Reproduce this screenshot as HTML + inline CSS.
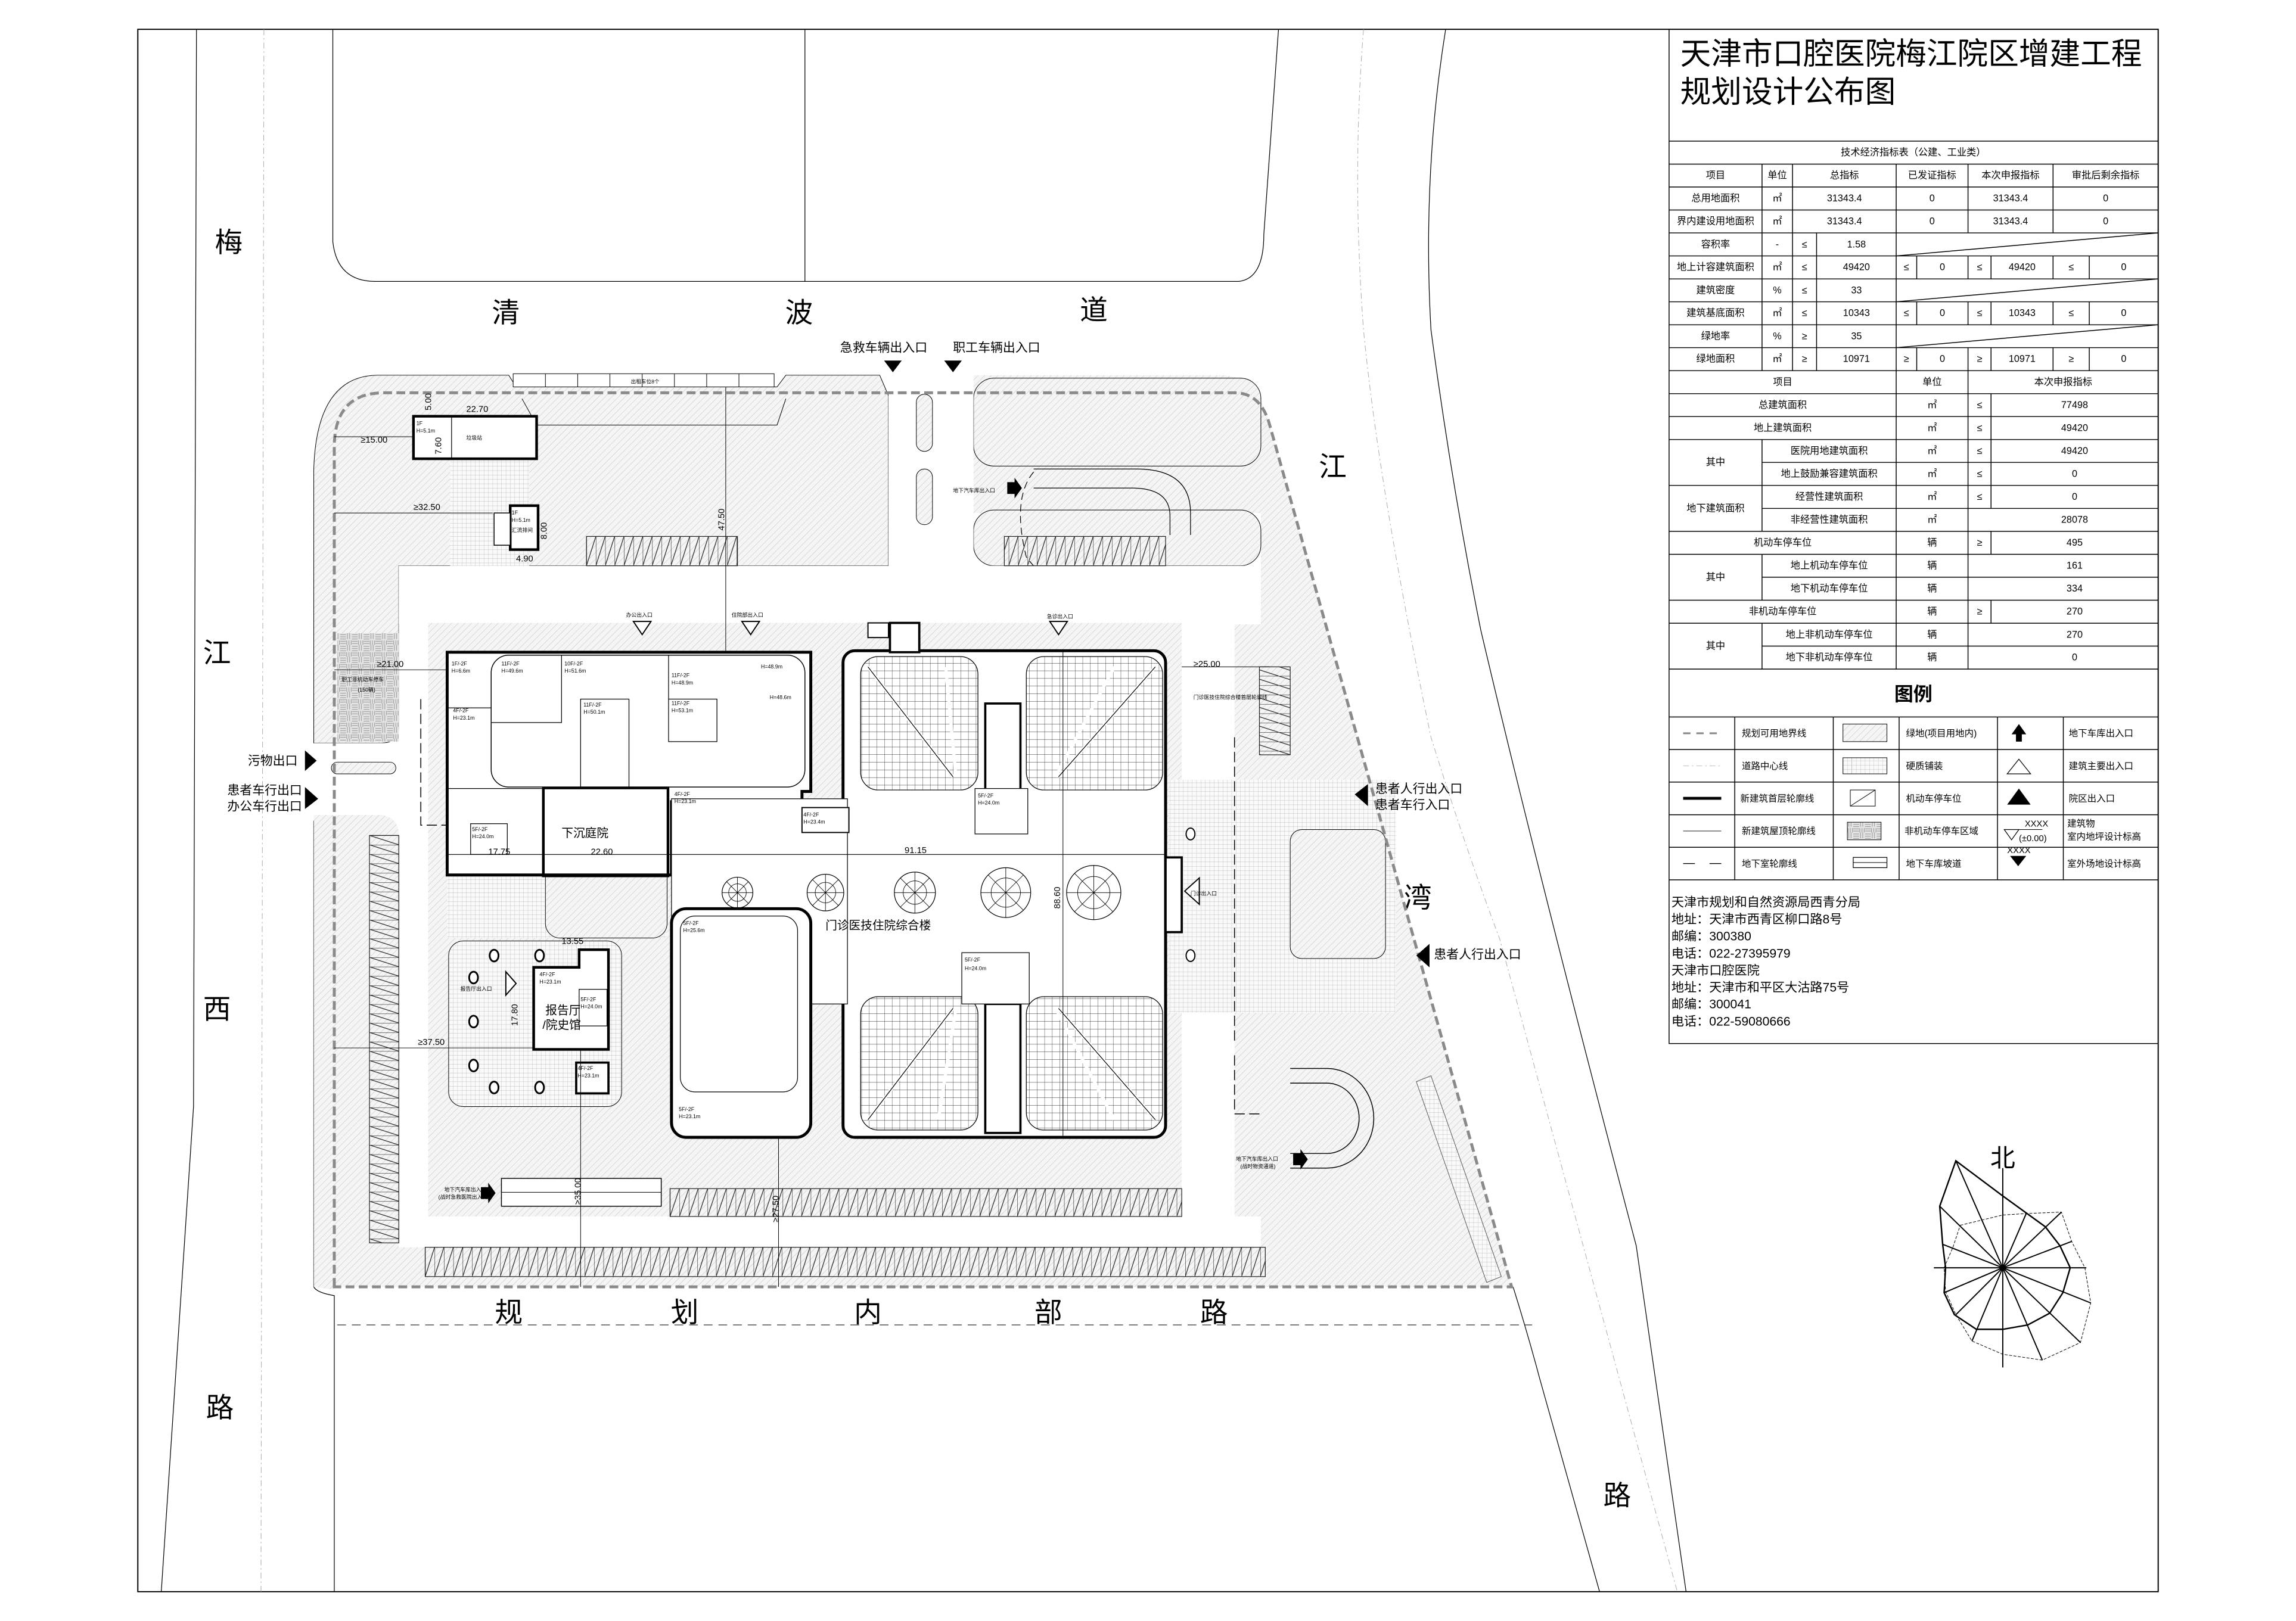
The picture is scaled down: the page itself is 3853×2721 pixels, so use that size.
<!DOCTYPE html>
<html><head><meta charset="utf-8">
<style>
html,body{margin:0;padding:0;background:#fff;}
svg{display:block;}
text{font-family:"Liberation Sans","Noto Sans CJK SC",sans-serif;fill:#000;}
</style></head>
<body>
<svg width="3853" height="2721" viewBox="0 0 1566 1106" preserveAspectRatio="none" xmlns="http://www.w3.org/2000/svg">
<defs>
<pattern id="h" width="3.2" height="3.2" patternUnits="userSpaceOnUse" patternTransform="rotate(45)"><rect width="3.2" height="3.2" fill="#f5f5f5"/><line x1="0" y1="0" x2="0" y2="3.2" stroke="#c2c2c2" stroke-width="0.45"/></pattern>
<pattern id="g" width="3" height="3" patternUnits="userSpaceOnUse"><rect width="3" height="3" fill="#fafafa"/><path d="M0,0H3M0,0V3" stroke="#bdbdbd" stroke-width="0.35" fill="none"/></pattern>
<pattern id="nm" width="8" height="8" patternUnits="userSpaceOnUse"><rect width="8" height="8" fill="#e4e4e4"/><path d="M0,1H4M0,2.5H4M0,4H4M5,0V4M6.5,0V4M4.5,5V8M6,5V8M7.5,5V8M0,5.5H4M0,7H4" stroke="#888" stroke-width="0.35"/></pattern>
<pattern id="pk" width="5.2" height="5.2" patternUnits="userSpaceOnUse"><rect width="5.2" height="5.2" fill="#fff"/><path d="M0,0H5.2M0,0V5.2" stroke="#222" stroke-width="0.35"/></pattern>
<pattern id="pb" x="290" y="851" width="6.4" height="20" patternUnits="userSpaceOnUse"><path d="M0,0V20M0,20L6.4,0" stroke="#222" stroke-width="0.5" fill="none"/></pattern>
<pattern id="pa" x="457" y="811" width="6.4" height="19" patternUnits="userSpaceOnUse"><path d="M0,0V19M0,19L6.4,0" stroke="#222" stroke-width="0.5" fill="none"/></pattern>
<pattern id="pt" x="400" y="366" width="6.4" height="20" patternUnits="userSpaceOnUse"><path d="M0,0V20M0,20L6.4,0" stroke="#222" stroke-width="0.5" fill="none"/></pattern>
<pattern id="pv" x="252" y="570" width="20" height="6.4" patternUnits="userSpaceOnUse"><path d="M0,0H20M0,0L20,6.4" stroke="#222" stroke-width="0.5" fill="none"/></pattern>
</defs>

<!-- outer frame -->
<rect x="94" y="20" width="1378" height="1066" fill="none" stroke="#000" stroke-width="0.8"/>

<!-- ===== Roads ===== -->
<g fill="none" stroke="#000" stroke-width="0.5">
<path d="M134,20 L132,755 L110,1086"/>
<path d="M227,20 L227,165 Q230,192 256,192 L845,192 Q862,190 862,160 L872,20"/>
<line x1="549" y1="20" x2="549" y2="192"/>
<path d="M986,20 Q970,120 976,225 Q990,330 1010,430 Q1050,600 1116,850 L1150,1086"/>
<path d="M1032,878 Q1042,910 1050,940 L1091,1086"/>
<path d="M214,560 L214,878 Q216,882 228,884 L228,1086"/>
</g>
<g fill="none" stroke="#aaa" stroke-width="0.4" stroke-dasharray="4 2 1 2">
<line x1="180" y1="20" x2="178" y2="1086"/>
<path d="M930,20 Q922,120 930,225 Q940,330 976,503 Q1000,580 1023,641 L1144,1086"/>
</g>
<line x1="230" y1="904" x2="1045" y2="904" stroke="#333" stroke-width="0.5" stroke-dasharray="6 4"/>

<!-- road names -->
<g font-size="19" text-anchor="middle">
<text x="156" y="172">梅</text><text x="148" y="452">江</text><text x="148" y="695">西</text><text x="150" y="967">路</text>
<text x="345" y="220">清</text><text x="545" y="220">波</text><text x="746" y="218">道</text>
<text x="909" y="325">江</text><text x="967" y="619">湾</text><text x="1103" y="1027">路</text>
<text x="347" y="902">规</text><text x="467" y="902">划</text><text x="592" y="902">内</text><text x="715" y="902">部</text><text x="828" y="902">路</text>
</g>

<!-- ===== Site green (hatch) ===== -->
<path d="M214,320 Q216,256 258,256 L347,256 L352,264 L530,264 L536,256 L600,256 L606,270 L606,386 L272,386 L272,495 Q272,507 260,507 L214,507 Z" fill="url(#h)" stroke="#000" stroke-width="0.4"/>
<path d="M664,256 L835,256 Q858,258 866,290 L1031,878 L228,878 L228,880 L214,878 L214,556 L260,556 Q272,558 272,570 L272,851 L860,851 L860,830 L842,830 L842,425 L662,425 L662,386 L860,386 L860,350 L664,350 Z" fill="url(#h)" stroke="none"/>
<rect x="664" y="258" width="196" height="60" rx="14" fill="url(#h)" stroke="#000" stroke-width="0.4"/>
<rect x="664" y="348" width="196" height="38" rx="14" fill="url(#h)" stroke="#000" stroke-width="0.4"/>
<!-- ramp top-right -->
<path d="M705,320 L775,320 Q812,320 812,350 L812,365 M705,333 L772,333 Q798,333 798,352 L798,365" fill="none" stroke="#000" stroke-width="0.5"/>
<path d="M705,322 Q690,340 700,380 Q730,420 800,420" fill="none" stroke="#000" stroke-width="0.5" stroke-dasharray="5 3"/>
<!-- white internal roads -->
<rect x="272" y="386" width="588" height="40" fill="#fff"/>
<rect x="272" y="386" width="20" height="465" fill="#fff"/>
<rect x="272" y="830" width="570" height="21" fill="#fff"/>
<rect x="806" y="425" width="36" height="405" fill="#fff"/>
<rect x="606" y="256" width="58" height="130" fill="#fff"/>
<rect x="214" y="507" width="58" height="49" fill="#fff"/>
<rect x="625" y="269" width="11" height="39" rx="5.5" fill="url(#h)" stroke="#000" stroke-width="0.4"/>
<rect x="625" y="320" width="11" height="38" rx="5.5" fill="url(#h)" stroke="#000" stroke-width="0.4"/>
<rect x="226" y="520" width="44" height="8" rx="4" fill="url(#h)" stroke="#000" stroke-width="0.4"/>
<!-- building zone ring -->
<rect x="292" y="425" width="514" height="405" fill="url(#h)"/>
<!-- plaza -->
<rect x="797" y="532" width="155" height="159" fill="url(#g)"/>
<rect x="880" y="566" width="65" height="88" rx="8" fill="url(#h)" stroke="#000" stroke-width="0.4"/>
<!-- non motor parking -->
<rect x="230" y="432" width="42" height="74" fill="url(#nm)"/>
<polygon points="966,738 976,734 1024,871 1014,875" fill="url(#g)" stroke="#555" stroke-width="0.4"/>
<!-- paving patches -->
<rect x="307" y="313" width="54" height="73" fill="url(#g)"/>
<rect x="305" y="597" width="150" height="43" fill="url(#g)"/>
<rect x="306" y="642" width="118" height="113" rx="10" fill="url(#g)" stroke="#000" stroke-width="0.4"/>
<rect x="372" y="540" width="83" height="100" rx="10" fill="url(#h)" stroke="#000" stroke-width="0.4"/>

<!-- parking rows -->
<rect x="290" y="851" width="573" height="20" fill="url(#pb)" stroke="#222" stroke-width="0.5"/>
<rect x="457" y="811" width="349" height="19" fill="url(#pa)" stroke="#222" stroke-width="0.5"/>
<rect x="400" y="366" width="103" height="20" fill="url(#pt)" stroke="#222" stroke-width="0.5"/>
<rect x="685" y="366" width="110" height="20" fill="url(#pt)" stroke="#222" stroke-width="0.5"/>
<rect x="252" y="570" width="20" height="278" fill="url(#pv)" stroke="#222" stroke-width="0.5"/>
<rect x="859" y="455" width="21" height="60" fill="url(#pv)" stroke="#222" stroke-width="0.5"/>
<!-- taxi stalls -->
<rect x="350" y="255" width="178" height="9" fill="#fff" stroke="#000" stroke-width="0.4"/>
<path d="M372,255V264M394,255V264M416,255V264M438,255V264M460,255V264M482,255V264M504,255V264" stroke="#000" stroke-width="0.4"/>
<text x="440" y="261.5" font-size="3.5" text-anchor="middle">出租车位8个</text>
<path d="M356,272 L366,290 L530,290 L536,272" fill="none" stroke="#000" stroke-width="0.4"/>

<!-- site boundary dashed -->
<path d="M228,878 L228,305 Q228,268 262,268 L842,268 Q860,268 866,290 L1031,878 Z" fill="none" stroke="#8a8a8a" stroke-width="2" stroke-dasharray="6 3"/>

<!-- ===== Buildings ===== -->
<g stroke="#000" fill="#fff">
<!-- left tower -->
<path d="M305,445 L553,445 L553,540 L547,540 L547,547 L458,547 L458,597 L370,597 L370,597 L305,597 Z" stroke-width="2"/>
<rect x="335" y="447" width="214" height="90" rx="12" stroke-width="0.6"/>
<path d="M335,493 H383 V447 M396,537 V477 H429 V537 M456,477 H489 V506 H456 Z M456,447 V477" fill="none" stroke-width="0.5"/>
<path d="M305,538 H372 M305,483 H335" fill="none" stroke-width="0.5"/>
<rect x="370.6" y="537.6" width="85" height="60" fill="none" stroke-width="1.8"/>
<rect x="321" y="562" width="25" height="21" fill="#fff" stroke-width="0.5"/>
<!-- right wing -->
<rect x="575" y="444" width="220" height="332" rx="8" stroke-width="2"/>
<rect x="458" y="545" width="120" height="140" stroke-width="0.5"/>
<!-- courts -->
<rect x="587" y="448" width="80" height="91" rx="12" fill="url(#pk)" stroke-width="0.5"/>
<rect x="700" y="448" width="93" height="91" rx="12" fill="url(#pk)" stroke-width="0.5"/>
<rect x="587" y="680" width="80" height="91" rx="12" fill="url(#pk)" stroke-width="0.5"/>
<rect x="700" y="680" width="93" height="91" rx="12" fill="url(#pk)" stroke-width="0.5"/>
<path d="M592,455 L650,530 M645,455 L652,530 M788,455 L722,530 M760,455 L720,530 M592,764 L650,688 M640,764 L652,688 M788,764 L722,688 M760,764 L720,688" fill="none" stroke="#fff" stroke-width="2.2"/>
<path d="M592,455 L650,530 M788,455 L722,530 M592,764 L650,688 M788,764 L722,688" fill="none" stroke-width="0.5"/>
<rect x="672" y="480" width="24" height="62" fill="#fff" stroke-width="1.5"/>
<rect x="672" y="685" width="24" height="88" fill="#fff" stroke-width="1.5"/>
<rect x="592" y="425" width="14" height="10" stroke-width="0.8"/>
<rect x="607" y="425" width="20" height="20" stroke-width="1.5"/>
<rect x="665" y="538" width="36" height="31" stroke-width="0.5"/>
<rect x="547" y="551" width="32" height="17" stroke-width="0.8"/>
<rect x="656" y="650" width="46" height="35" stroke-width="0.5"/>
<!-- hall circles -->
</g>
<line x1="305" y1="583" x2="795" y2="583" stroke="#000" stroke-width="0.5"/>
<line x1="725" y1="443" x2="725" y2="775" stroke="#000" stroke-width="0.4"/>
<line x1="495" y1="264" x2="495" y2="445" stroke="#000" stroke-width="0.4"/>
<g fill="#fff" stroke="#000" stroke-width="0.5">
<circle cx="503" cy="609" r="10.5"/><circle cx="563" cy="609" r="12.5"/><circle cx="624" cy="609" r="14"/><circle cx="686" cy="609" r="17"/><circle cx="746" cy="609" r="18.5"/>
</g>
<g stroke="#000" stroke-width="0.35" fill="none">
<path d="M492.5,609H513.5M503,598.5V619.5M495.6,601.6L510.4,616.4M510.4,601.6L495.6,616.4"/>
<path d="M550.5,609H575.5M563,596.5V621.5M554,600L572,618M572,600L554,618"/>
<path d="M610,609H638M624,595V623M614,599L634,619M634,599L614,619"/>
<path d="M669,609H703M686,592V626M674,597L698,621M698,597L674,621"/>
<path d="M727.5,609H764.5M746,590.5V627.5M733,596L759,622M759,596L733,622"/>
<circle cx="503" cy="609" r="6"/><circle cx="563" cy="609" r="7"/><circle cx="624" cy="609" r="8"/><circle cx="686" cy="609" r="10"/><circle cx="746" cy="609" r="11"/>
</g>
<!-- lower left buildings -->
<rect x="458" y="620" width="95" height="156" rx="10" fill="#fff" stroke="#000" stroke-width="2"/>
<rect x="464" y="625" width="80" height="120" rx="10" fill="#fff" stroke="#000" stroke-width="0.5"/>
<polygon points="364,660 395,660 395,648 415,648 415,716 364,716" fill="#fff" stroke="#000" stroke-width="1.8"/>
<rect x="393" y="725" width="22" height="21" fill="#fff" stroke="#000" stroke-width="1.5"/>
<rect x="395" y="675" width="19" height="25" fill="#fff" stroke="#000" stroke-width="0.5"/>
<g fill="#fff" stroke="#000" stroke-width="1.2">
<ellipse cx="337" cy="652" rx="3" ry="4"/><ellipse cx="368" cy="652" rx="3" ry="4"/><ellipse cx="323" cy="667" rx="3" ry="4"/><ellipse cx="323" cy="697" rx="3" ry="4"/><ellipse cx="323" cy="727" rx="3" ry="4"/><ellipse cx="337" cy="742" rx="3" ry="4"/><ellipse cx="368" cy="742" rx="3" ry="4"/>
</g>
<!-- garbage station etc -->
<rect x="282" y="284" width="84" height="29" fill="#fff" stroke="#000" stroke-width="1.8"/>
<line x1="308" y1="284" x2="308" y2="313" stroke="#000" stroke-width="0.5"/>
<rect x="348" y="345" width="19" height="30" fill="#fff" stroke="#000" stroke-width="1.8"/>
<rect x="337" y="350" width="11" height="22" fill="#fff" stroke="#000" stroke-width="0.6"/>
<!-- ramps -->
<rect x="342" y="804" width="109" height="19" fill="#fff" stroke="#000" stroke-width="0.6"/>
<line x1="342" y1="813.5" x2="451" y2="813.5" stroke="#000" stroke-width="0.4"/>
<path d="M880,729 L905,729 A32 34 0 0 1 905,797 L880,797 M880,739 L905,739 A22 24 0 0 1 905,787 L880,787" fill="none" stroke="#000" stroke-width="0.6"/>
<!-- right entrance -->
<rect x="795" y="585" width="11" height="51" fill="#fff" stroke="#000" stroke-width="1.5"/>
<polygon points="808,608 818,599 818,617" fill="#fff" stroke="#000" stroke-width="0.8"/>
<ellipse cx="812" cy="569" rx="3" ry="4" fill="#fff" stroke="#000" stroke-width="0.8"/>
<ellipse cx="812" cy="652" rx="3" ry="4" fill="#fff" stroke="#000" stroke-width="0.8"/>
<!-- basement dashed -->
<path d="M287,477 V563 H305 M842,503 V711 M842,720 V760 L860,760" fill="none" stroke="#000" stroke-width="0.6" stroke-dasharray="7 3"/>
<!-- dimension lines -->
<g stroke="#000" stroke-width="0.4">
<line x1="228" y1="298" x2="282" y2="298"/><line x1="228" y1="350" x2="336" y2="350"/><line x1="228" y1="457" x2="305" y2="457"/><line x1="228" y1="715" x2="364" y2="715"/>
<line x1="396" y1="716" x2="396" y2="878"/><line x1="531" y1="776" x2="531" y2="878"/>
<line x1="806" y1="455" x2="866" y2="455"/>
</g>
<!-- building entrance triangles -->
<g fill="#fff" stroke="#000" stroke-width="0.8">
<polygon points="432,424 444,424 438,433"/><polygon points="506,424 518,424 512,433"/><polygon points="716,424 728,424 722,433"/>
<polygon points="345,663 345,679 352,671"/>
</g>

<!-- small labels -->
<g font-size="3.6">
<text x="284" y="290">1F</text><text x="284" y="295">H=5.1m</text><text x="318" y="300">垃圾站</text>
<text x="349" y="351">1F</text><text x="349" y="356">H=5.1m</text><text x="349" y="363">汇流排间</text>
<text x="308" y="454">1F/-2F</text><text x="308" y="459">H=6.6m</text>
<text x="342" y="454">11F/-2F</text><text x="342" y="459">H=49.6m</text>
<text x="385" y="454">10F/-2F</text><text x="385" y="459">H=51.6m</text>
<text x="458" y="462">11F/-2F</text><text x="458" y="467">H=48.9m</text>
<text x="458" y="481">11F/-2F</text><text x="458" y="486">H=53.1m</text>
<text x="398" y="482">11F/-2F</text><text x="398" y="487">H=50.1m</text>
<text x="309" y="486">4F/-2F</text><text x="309" y="491">H=23.1m</text>
<text x="519" y="456">H=48.9m</text><text x="525" y="477">H=48.6m</text>
<text x="460" y="543">4F/-2F</text><text x="460" y="548">H=23.1m</text>
<text x="322" y="567">5F/-2F</text><text x="322" y="572">H=24.0m</text>
<text x="548" y="557">4F/-2F</text><text x="548" y="562">H=23.4m</text>
<text x="667" y="544">5F/-2F</text><text x="667" y="549">H=24.0m</text>
<text x="658" y="656">5F/-2F</text><text x="658" y="662">H=24.0m</text>
<text x="466" y="631">5F/-2F</text><text x="466" y="636">H=25.6m</text>
<text x="463" y="758">5F/-2F</text><text x="463" y="763">H=23.1m</text>
<text x="368" y="666">4F/-2F</text><text x="368" y="671">H=23.1m</text>
<text x="396" y="683">5F/-2F</text><text x="396" y="688">H=24.0m</text>
<text x="394" y="730">4F/-2F</text><text x="394" y="735">H=23.1m</text>
<text x="427" y="421">办公出入口</text><text x="499" y="421">住院部出入口</text><text x="714" y="422">急诊出入口</text>
<text x="650" y="336">地下汽车库出入口</text>
<text x="812" y="611">门诊出入口</text>
<text x="303" y="813">地下汽车库出入口</text><text x="299" y="818">(战时急救医院出入口)</text>
<text x="843" y="792">地下汽车库出入口</text><text x="846" y="797">(战时物资通道)</text>
<text x="314" y="676">报告厅出入口</text>
<text x="233" y="465">职工非机动车停车</text><text x="244" y="472">(150辆)</text>
<text x="814" y="477">门诊医技住院综合楼首层轮廓线</text>
</g>
<g font-size="6" fill="#000">
<text x="318" y="281">22.70</text><text x="246" y="302">≥15.00</text><text x="282" y="348">≥32.50</text><text x="352" y="383">4.90</text>
<text x="257" y="455">≥21.00</text><text x="285" y="713">≥37.50</text><text x="814" y="455">≥25.00</text>
<text x="333" y="583">17.75</text><text x="403" y="583">22.60</text><text x="617" y="582">91.15</text><text x="383" y="644">13.55</text>
<text transform="translate(494,362) rotate(-90)">47.50</text><text transform="translate(723,620) rotate(-90)">88.60</text>
<text transform="translate(353,700) rotate(-90)">17.80</text><text transform="translate(396,822) rotate(-90)">≥35.00</text><text transform="translate(531,834) rotate(-90)">≥27.50</text>
<text transform="translate(301,310) rotate(-90)">7.60</text><text transform="translate(373,368) rotate(-90)">8.00</text><text transform="translate(294,280) rotate(-90)">5.00</text>
</g>
<g font-size="8">
<text x="383" y="571">下沉庭院</text><text x="563" y="634">门诊医技住院综合楼</text>
<text x="372" y="692">报告厅</text><text x="370" y="702">/院史馆</text>
</g>

<!-- site entrances -->
<g font-size="8.5">
<text x="573" y="240">急救车辆出入口</text><text x="650" y="240">职工车辆出入口</text>
<text x="203" y="522" text-anchor="end">污物出口</text>
<text x="206" y="542" text-anchor="end">患者车行出口</text><text x="206" y="553" text-anchor="end">办公车行出口</text>
<text x="938" y="541">患者人行出入口</text><text x="938" y="552">患者车行入口</text>
<text x="978" y="654">患者人行出入口</text>
</g>
<g fill="#000">
<polygon points="603,246 615,246 609,254"/><polygon points="644,246 656,246 650,254"/>
<polygon points="208,512 208,526 216,519"/><polygon points="208,537 208,552 217,545"/>
<polygon points="924,542 933,535 933,550"/><polygon points="966,652 975,644 975,660"/>
<polygon points="687,329 692,329 692,326 697,333 692,340 692,337 687,337"/>
<polygon points="328,810 333,810 333,807 338,814 333,821 333,818 328,818"/>
<polygon points="882,787 887,787 887,784 892,791 887,798 887,795 882,795"/>
</g>

<!-- ===== North arrow ===== -->
<g transform="translate(1366,865)" fill="none" stroke="#000">
<text x="0" y="-69" font-size="17" text-anchor="middle" stroke="none">北</text>
<line x1="0" y1="-68" x2="0" y2="68" stroke-width="0.8"/>
<line x1="-47" y1="0" x2="57" y2="0" stroke-width="0.8"/>
<polygon points="-29,-29 0,-36 16,-37 40,-38 47,-18 56,0 60,24 53,51 27,63 0,59 -21,50 -32,32 -39,16 -40,0 -34,-14" stroke-width="0.4" stroke-dasharray="2 1"/>
<polygon points="-32,-73 -43,-42 -41,-16 -39,0 -40,17 -33,32 -18,42 0,42 17,39 32,31 41,17 46,0 39,-15 29,-28 0,-49" stroke-width="1"/>
<path d="M0,0L-32,-73M0,0L-43,-42M0,0L-41,-16M0,0L-40,17M0,0L-32,32M0,0L-21,50M0,0L27,63M0,0L53,51M0,0L60,24M0,0L47,-18M0,0L40,-38M0,0L16,-37" stroke-width="0.8"/>
<circle r="1.5" fill="#000"/>
</g>

<!-- ===== Right panel ===== -->
<g stroke="#000" stroke-width="0.6" fill="none">
<rect x="1138.4" y="20" width="333.6" height="692"/>
<!-- horizontal full lines -->
<path d="M1138.4,96.3H1472M1138.4,112H1472M1138.4,127.6H1472M1138.4,143.3H1472M1138.4,158.9H1472M1138.4,174.6H1472M1138.4,190.3H1472M1138.4,205.9H1472M1138.4,221.6H1472M1138.4,237.2H1472M1138.4,252.9H1472M1138.4,268.6H1472M1138.4,284.2H1472M1138.4,299.9H1472M1201.8,315.5H1472M1138.4,331.2H1472M1201.8,346.9H1472M1138.4,362.5H1472M1138.4,378.2H1472M1201.8,393.8H1472M1138.4,409.5H1472M1138.4,425.2H1472M1201.8,440.8H1472M1138.4,456.5H1472"/>
<!-- verticals -->
<path d="M1201.8,112V252.9M1222.6,112V252.9M1239,158.9V252.9M1293.3,112V456.5"/>
<path d="M1307.3,174.6V190.3M1307.3,205.9V221.6M1307.3,237.2V252.9"/>
<path d="M1342.3,112V158.9M1342.3,174.6V190.3M1342.3,205.9V221.6M1342.3,237.2V456.5"/>
<path d="M1358,174.6V190.3M1358,205.9V221.6M1358,237.2V252.9M1358,268.6V346.9M1358,362.5V378.2M1358,409.5V425.2"/>
<path d="M1400.3,112V158.9M1400.3,174.6V190.3M1400.3,205.9V221.6M1400.3,237.2V252.9"/>
<path d="M1425,174.6V190.3M1425,205.9V221.6M1425,237.2V252.9"/>
<path d="M1201.8,299.9V362.5M1201.8,378.2V409.5M1201.8,425.2V456.5"/>
<path d="M1293.3,174.6L1472,158.9M1293.3,205.9L1472,190.3M1293.3,237.2L1472,221.6"/>
<!-- legend -->
<path d="M1138.4,489.2H1472M1138.4,511.4H1472M1138.4,533.6H1472M1138.4,555.9H1472M1138.4,578.1H1472M1138.4,600.3H1472"/>
<path d="M1183.2,489.2V600.3M1250.4,489.2V600.3M1295.3,489.2V600.3M1362.4,489.2V600.3M1407.3,489.2V600.3"/>
</g>
<text x="1146" y="44" font-size="21">天津市口腔医院梅江院区增建工程</text>
<text x="1146" y="70" font-size="21">规划设计公布图</text>

<g font-size="6.6" text-anchor="middle" dominant-baseline="central">
<text x="1305" y="104.1">技术经济指标表（公建、工业类）</text>
<text x="1170.1" y="119.8">项目</text><text x="1212.2" y="119.8">单位</text><text x="1258" y="119.8">总指标</text><text x="1317.8" y="119.8">已发证指标</text><text x="1371.3" y="119.8">本次申报指标</text><text x="1436.2" y="119.8">审批后剩余指标</text>
<text x="1170.1" y="135.4">总用地面积</text><text x="1212.2" y="135.4">㎡</text><text x="1258" y="135.4">31343.4</text><text x="1317.8" y="135.4">0</text><text x="1371.3" y="135.4">31343.4</text><text x="1436.2" y="135.4">0</text>
<text x="1170.1" y="151.1">界内建设用地面积</text><text x="1212.2" y="151.1">㎡</text><text x="1258" y="151.1">31343.4</text><text x="1317.8" y="151.1">0</text><text x="1371.3" y="151.1">31343.4</text><text x="1436.2" y="151.1">0</text>
<text x="1170.1" y="166.8">容积率</text><text x="1212.2" y="166.8">-</text><text x="1230.8" y="166.8">≤</text><text x="1266.2" y="166.8">1.58</text>
<text x="1170.1" y="182.4">地上计容建筑面积</text><text x="1212.2" y="182.4">㎡</text><text x="1230.8" y="182.4">≤</text><text x="1266.2" y="182.4">49420</text><text x="1300.3" y="182.4">≤</text><text x="1324.8" y="182.4">0</text><text x="1350.2" y="182.4">≤</text><text x="1379.2" y="182.4">49420</text><text x="1412.7" y="182.4">≤</text><text x="1448.5" y="182.4">0</text>
<text x="1170.1" y="198.1">建筑密度</text><text x="1212.2" y="198.1">%</text><text x="1230.8" y="198.1">≤</text><text x="1266.2" y="198.1">33</text>
<text x="1170.1" y="213.7">建筑基底面积</text><text x="1212.2" y="213.7">㎡</text><text x="1230.8" y="213.7">≤</text><text x="1266.2" y="213.7">10343</text><text x="1300.3" y="213.7">≤</text><text x="1324.8" y="213.7">0</text><text x="1350.2" y="213.7">≤</text><text x="1379.2" y="213.7">10343</text><text x="1412.7" y="213.7">≤</text><text x="1448.5" y="213.7">0</text>
<text x="1170.1" y="229.4">绿地率</text><text x="1212.2" y="229.4">%</text><text x="1230.8" y="229.4">≥</text><text x="1266.2" y="229.4">35</text>
<text x="1170.1" y="245">绿地面积</text><text x="1212.2" y="245">㎡</text><text x="1230.8" y="245">≥</text><text x="1266.2" y="245">10971</text><text x="1300.3" y="245">≥</text><text x="1324.8" y="245">0</text><text x="1350.2" y="245">≥</text><text x="1379.2" y="245">10971</text><text x="1412.7" y="245">≥</text><text x="1448.5" y="245">0</text>
<text x="1215.9" y="260.7">项目</text><text x="1317.8" y="260.7">单位</text><text x="1407.2" y="260.7">本次申报指标</text>
<text x="1215.9" y="276.4">总建筑面积</text><text x="1317.8" y="276.4">㎡</text><text x="1350.2" y="276.4">≤</text><text x="1415" y="276.4">77498</text>
<text x="1215.9" y="292">地上建筑面积</text><text x="1317.8" y="292">㎡</text><text x="1350.2" y="292">≤</text><text x="1415" y="292">49420</text>
<text x="1170.1" y="315.5">其中</text>
<text x="1247.6" y="307.7">医院用地建筑面积</text><text x="1317.8" y="307.7">㎡</text><text x="1350.2" y="307.7">≤</text><text x="1415" y="307.7">49420</text>
<text x="1247.6" y="323.3">地上鼓励兼容建筑面积</text><text x="1317.8" y="323.3">㎡</text><text x="1350.2" y="323.3">≤</text><text x="1415" y="323.3">0</text>
<text x="1170.1" y="346.9">地下建筑面积</text>
<text x="1247.6" y="339">经营性建筑面积</text><text x="1317.8" y="339">㎡</text><text x="1350.2" y="339">≤</text><text x="1415" y="339">0</text>
<text x="1247.6" y="354.7">非经营性建筑面积</text><text x="1317.8" y="354.7">㎡</text><text x="1415" y="354.7">28078</text>
<text x="1215.9" y="370.3">机动车停车位</text><text x="1317.8" y="370.3">辆</text><text x="1350.2" y="370.3">≥</text><text x="1415" y="370.3">495</text>
<text x="1170.1" y="393.8">其中</text>
<text x="1247.6" y="386">地上机动车停车位</text><text x="1317.8" y="386">辆</text><text x="1415" y="386">161</text>
<text x="1247.6" y="401.6">地下机动车停车位</text><text x="1317.8" y="401.6">辆</text><text x="1415" y="401.6">334</text>
<text x="1215.9" y="417.3">非机动车停车位</text><text x="1317.8" y="417.3">辆</text><text x="1350.2" y="417.3">≥</text><text x="1415" y="417.3">270</text>
<text x="1170.1" y="440.8">其中</text>
<text x="1247.6" y="433">地上非机动车停车位</text><text x="1317.8" y="433">辆</text><text x="1415" y="433">270</text>
<text x="1247.6" y="448.6">地下非机动车停车位</text><text x="1317.8" y="448.6">辆</text><text x="1415" y="448.6">0</text>
</g>

<text x="1305" y="478" font-size="13" text-anchor="middle" font-weight="bold">图例</text>
<!-- legend symbols -->
<g fill="none" stroke="#000">
<line x1="1148" y1="500.3" x2="1174" y2="500.3" stroke="#888" stroke-width="1.2" stroke-dasharray="5 4"/>
<line x1="1148" y1="522.5" x2="1174" y2="522.5" stroke="#ccc" stroke-width="0.5" stroke-dasharray="4 2 1 2"/>
<line x1="1148" y1="544.7" x2="1174" y2="544.7" stroke-width="2"/>
<line x1="1148" y1="567" x2="1174" y2="567" stroke-width="0.4"/>
<path d="M1148,589.2H1156M1166,589.2H1174" stroke-width="0.6"/>
<rect x="1257" y="494" width="30" height="12" fill="url(#h)" stroke-width="0.4"/>
<rect x="1257" y="517" width="30" height="11" fill="url(#g)" stroke-width="0.4"/>
<rect x="1262" y="539" width="17" height="11" stroke-width="0.4"/>
<line x1="1262" y1="550" x2="1279" y2="539" stroke-width="0.4"/>
<rect x="1260" y="561" width="23" height="12" fill="url(#nm)" stroke-width="0.4"/>
<rect x="1264" y="585" width="23" height="7" stroke-width="0.5"/>
<line x1="1264" y1="588.5" x2="1287" y2="588.5" stroke-width="0.4"/>
<polygon points="1377,518 1385,528 1369,528" stroke-width="0.5"/>
<polygon points="1371,584 1382,584 1376.5,591" fill="#000" stroke="none"/>
<polygon points="1367,566 1377,566 1372,573" stroke-width="0.5"/>
<line x1="1367" y1="566" x2="1393" y2="566" stroke-width="0.4"/>
</g>
<polygon points="1377,494 1382,501 1379,501 1379,506 1375,506 1375,501 1372,501" fill="#000"/>
<polygon points="1377,538 1385,549 1369,549" fill="#000"/>
<g font-size="6.3">
<text x="1188" y="502.5">规划可用地界线</text><text x="1300" y="502.5">绿地(项目用地内)</text><text x="1411" y="502.5">地下车库出入口</text>
<text x="1188" y="524.7">道路中心线</text><text x="1300" y="524.7">硬质铺装</text><text x="1411" y="524.7">建筑主要出入口</text>
<text x="1187" y="547">新建筑首层轮廓线</text><text x="1300" y="547">机动车停车位</text><text x="1411" y="547">院区出入口</text>
<text x="1188" y="569">新建筑屋顶轮廓线</text><text x="1299" y="569">非机动车停车区域</text><text x="1410" y="564">建筑物</text><text x="1410" y="573">室内地坪设计标高</text>
<text x="1188" y="591.5">地下室轮廓线</text><text x="1300" y="591.5">地下车库坡道</text><text x="1410" y="591.5">室外场地设计标高</text>
<text x="1381" y="564" font-size="6">XXXX</text><text x="1377" y="574" font-size="6">(±0.00)</text><text x="1369" y="582" font-size="6">XXXX</text>
</g>
<g font-size="8.6">
<text x="1140" y="618.5">天津市规划和自然资源局西青分局</text>
<text x="1140" y="630">地址：天津市西青区柳口路8号</text>
<text x="1140" y="641.7">邮编：300380</text>
<text x="1140" y="653.3">电话：022-27395979</text>
<text x="1140" y="665">天津市口腔医院</text>
<text x="1140" y="676.5">地址：天津市和平区大沽路75号</text>
<text x="1140" y="688">邮编：300041</text>
<text x="1140" y="699.7">电话：022-59080666</text>
</g>
</svg>
</body></html>
